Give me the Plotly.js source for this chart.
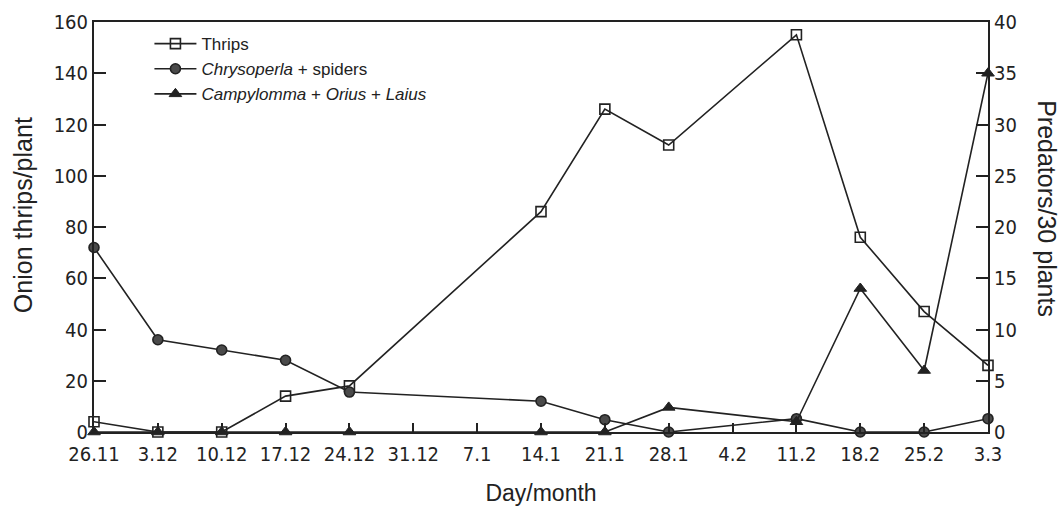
<!DOCTYPE html>
<html>
<head>
<meta charset="utf-8">
<script src="https://cdn.plot.ly/plotly-3.0.1.min.js"></script>
<style>html,body{margin:0;padding:0;background:#fff;}#chart{width:1063px;height:506px;}</style>
</head>
<body>
<div id="chart"></div>
<script>
var dates = ["26.11","3.12","10.12","17.12","24.12","31.12","7.1","14.1","21.1","28.1","4.2","11.2","18.2","25.2","3.3"];
var thrips = [4, 0, 0, 14, 18, null, null, 86, 126, 112, null, 155, 76, 47, 26];
var chrysoperla = [18, 9, 8, 7, 3.9, null, null, 3, 1.2, 0, null, 1.3, 0, 0, 1.3];
var campylomma = [0, 0, 0, 0, 0, null, null, 0, 0, 2.4, null, 1, 14, 6, 35];
var leftTicks = [0, 20, 40, 60, 80, 100, 120, 140, 160];
var rightTicks = [0, 5, 10, 15, 20, 25, 30, 35, 40];

var tickFont = {family: "DejaVu Sans Condensed", size: 20, color: "#222"};
var titleFamily = "Liberation Sans, Arial";

var traces = [
  {x: dates, y: thrips, name: "Thrips", type: "scatter", mode: "lines+markers",
   connectgaps: true, cliponaxis: false, yaxis: "y",
   line: {color: "#222", width: 1.6},
   marker: {symbol: "square-open", size: 10, color: "#222", line: {width: 1.6, color: "#222"}}},
  {x: dates, y: chrysoperla, name: "<i>Chrysoperla</i> + spiders", type: "scatter", mode: "lines+markers",
   connectgaps: true, cliponaxis: false, yaxis: "y2",
   line: {color: "#222", width: 1.6},
   marker: {symbol: "circle", size: 10, color: "#4a4a4a", line: {width: 1.6, color: "#222"}}},
  {x: dates, y: campylomma, name: "<i>Campylomma</i> + <i>Orius</i> + <i>Laius</i>", type: "scatter", mode: "lines+markers",
   connectgaps: true, cliponaxis: false, yaxis: "y2",
   line: {color: "#222", width: 1.6},
   marker: {symbol: "triangle-up", size: 11, color: "#222", line: {width: 1, color: "#222"}}}
];

var layout = {
  width: 1063, height: 506,
  margin: {l: 94, r: 75, t: 22, b: 74},
  paper_bgcolor: "#fff", plot_bgcolor: "#fff",
  showlegend: true,
  legend: {x: 0.062, y: 0.99, xanchor: "left", yanchor: "top",
           font: {family: titleFamily, size: 17, color: "#222"},
           bgcolor: "rgba(0,0,0,0)", tracegroupgap: 0, itemwidth: 42},
  xaxis: {type: "category", categoryarray: dates, range: [0, 14],
          showline: true, linecolor: "#222", linewidth: 2, mirror: true,
          ticks: "inside", ticklen: 9, tickwidth: 2, tickcolor: "#222",
          ticklabelstandoff: 3,
          showgrid: false, zeroline: false, tickfont: tickFont,
          title: {text: "Day/month", font: {family: titleFamily, size: 23, color: "#222"}, standoff: 20}},
  yaxis: {range: [0, 160], tickvals: leftTicks, ticktext: leftTicks.map(String),
          showline: true, linecolor: "#222", linewidth: 2,
          ticks: "inside", ticklen: 12, tickwidth: 2, tickcolor: "#222",
          showgrid: false, zeroline: false, tickfont: tickFont},
  yaxis2: {range: [0, 40], tickvals: rightTicks, ticktext: rightTicks.map(String),
           overlaying: "y", side: "right",
           showline: true, linecolor: "#222", linewidth: 2,
           ticks: "inside", ticklen: 12, tickwidth: 2, tickcolor: "#222",
           showgrid: false, zeroline: false, tickfont: tickFont},
  annotations: [
    {text: "Onion thrips/plant", xref: "paper", yref: "paper", x: -0.0794, y: 0.529,
     xanchor: "center", yanchor: "middle", textangle: -90, showarrow: false,
     font: {family: titleFamily, size: 25, color: "#222"}},
    {text: "Predators/30 plants", xref: "paper", yref: "paper", x: 1.066, y: 0.546,
     xanchor: "center", yanchor: "middle", textangle: 90, showarrow: false,
     font: {family: titleFamily, size: 25, color: "#222"}}
  ]
};

Plotly.newPlot("chart", traces, layout, {displayModeBar: false, staticPlot: true});
</script>
</body>
</html>
